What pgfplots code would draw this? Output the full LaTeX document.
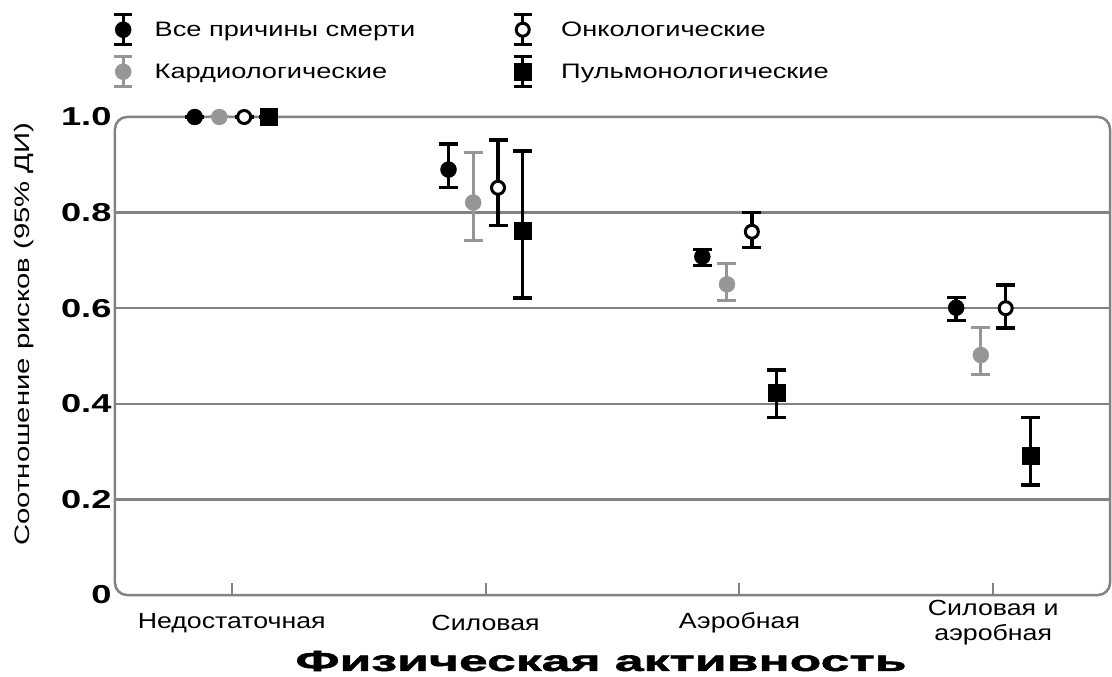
\documentclass[border=0pt]{standalone}
\usepackage{fontspec}
\setmainfont[FakeStretch=1.22]{Liberation Sans}
\newfontfamily\tickfont[FakeStretch=1.4]{Liberation Sans}
\newfontfamily\xlabfont[FakeStretch=1.79,FakeBold=2]{Liberation Sans}
\newfontfamily\ylabfont[FakeStretch=1.4]{Liberation Sans}
\newfontfamily\legfont[FakeStretch=1.3]{Liberation Sans}
\usepackage{pgfplots}
\usepackage{pgfplotstable}
\pgfplotsset{compat=1.18}
\definecolor{gridgray}{RGB}{130,130,130}
\definecolor{ptgray}{RGB}{150,150,150}

\pgfplotstableread{
x y ep em
-0.146 1.000 0.000 0.000
0.854 0.890 0.054 0.037
1.854 0.708 0.015 0.019
2.854 0.601 0.021 0.027
}\allcauses
\pgfplotstableread{
x y ep em
-0.049 1.000 0.000 0.000
0.951 0.821 0.105 0.079
1.951 0.650 0.044 0.033
2.951 0.502 0.058 0.041
}\cardio
\pgfplotstableread{
x y ep em
0.049 1.000 0.000 0.000
1.049 0.852 0.100 0.079
2.049 0.760 0.040 0.033
3.049 0.600 0.049 0.041
}\onco
\pgfplotstableread{
x y ep em
0.146 1.000 0.000 0.000
1.146 0.763 0.166 0.142
2.146 0.423 0.048 0.052
3.146 0.292 0.079 0.062
}\pulmo

\pgfplotsset{
  errlegend/.style={legend image code/.code={
    \draw[line width=3bp] (0bp,-15bp) -- (0bp,15bp)
      (-9bp,-15bp) -- (9bp,-15bp) (-9bp,15bp) -- (9bp,15bp);
    \draw plot coordinates {(0bp,0bp)};
  }},
}

\begin{document}
\begin{tikzpicture}
\useasboundingbox (-115bp,-82bp) rectangle (997bp,595bp);
\begin{axis}[
  scale only axis, width=995bp, height=478bp,
  at={(0,0)}, anchor=south west,
  xmin=-0.46, xmax=3.46, ymin=0, ymax=1,
  clip=false,
  axis line style={draw=none},
  xtick={0,1,2,3},
  xticklabels={Недостаточная,Силовая,Аэробная,{Силовая и\\аэробная}},
  xtick pos=bottom, xtick align=inside,
  major tick length=12bp,
  xtick style={draw=gridgray, line width=2bp},
  xticklabel style={anchor=center, yshift=-28bp, align=center,
    font=\fontsize{22}{25}\selectfont},
  ytick={0.2,0.4,0.6,0.8},
  yticklabels={0.2,0.4,0.6,0.8},
  extra y ticks={0,1},
  extra y tick labels={0,1.0},
  extra y tick style={grid=none},
  ytick style={draw=none},
  ymajorgrids,
  major grid style={draw=gridgray, line width=2.5bp},
  /pgf/number format/assume math mode=true,
  yticklabel style={font=\tickfont\bfseries\fontsize{26}{26}\selectfont},
  xlabel={Физическая активность},
  xlabel style={at={(axis description cs:0.5,0)}, anchor=center,
    yshift=-66bp, xshift=-11.5bp, font=\xlabfont\bfseries\fontsize{29}{30}\selectfont},
  ylabel={Соотношение рисков (95\% ДИ)},
  ylabel style={at={(axis description cs:0,0.5)}, anchor=center,
    yshift=91bp, xshift=22bp, font=\ylabfont\fontsize{21}{24}\selectfont},
  legend columns=2,
  legend cell align=left,
  legend style={at={(axis description cs:0,1)}, anchor=north west,
    xshift=-2.5bp, yshift=104bp, draw=none, fill=none, inner sep=0pt,
    row sep=9bp,
    font=\legfont\fontsize{21}{25}\selectfont,
    /tikz/column 1/.append style={column sep=19bp},
    /tikz/column 2/.append style={column sep=95bp},
    /tikz/column 3/.append style={column sep=26bp}},
]
\draw[gridgray, line width=2.5bp, rounded corners=12bp]
  (rel axis cs:0,0) rectangle (rel axis cs:1,1);

\addplot[black, errlegend, only marks, mark=*, mark size=8bp, mark options={fill=black, draw=black},
  error bars/.cd, y dir=both, y explicit,
  error bar style={line width=3.5bp, black},
  error mark options={rotate=90, mark size=9.5bp, line width=3.5bp, black}]
  table[x=x, y=y, y error plus=ep, y error minus=em]{\allcauses};
\addlegendentry{Все причины смерти}

\addplot[black, errlegend, only marks, mark=*, mark size=6.5bp, mark options={fill=white, draw=black, line width=3bp},
  error bars/.cd, y dir=both, y explicit,
  error bar style={line width=3.5bp, black},
  error mark options={rotate=90, mark size=9.5bp, line width=3.5bp, black}]
  table[x=x, y=y, y error plus=ep, y error minus=em]{\onco};
\addlegendentry{Онкологические}

\addplot[ptgray, errlegend, only marks, mark=*, mark size=8bp, mark options={fill=ptgray, draw=ptgray},
  error bars/.cd, y dir=both, y explicit,
  error bar style={line width=3bp, ptgray},
  error mark options={rotate=90, mark size=9.5bp, line width=3bp, ptgray}]
  table[x=x, y=y, y error plus=ep, y error minus=em]{\cardio};
\addlegendentry{Кардиологические}

\addplot[black, errlegend, only marks, mark=square*, mark size=8.5bp, mark options={fill=black, draw=black},
  error bars/.cd, y dir=both, y explicit,
  error bar style={line width=3.5bp, black},
  error mark options={rotate=90, mark size=9.5bp, line width=3.5bp, black}]
  table[x=x, y=y, y error plus=ep, y error minus=em]{\pulmo};
\addlegendentry{Пульмонологические}
\end{axis}
\end{tikzpicture}
\end{document}
